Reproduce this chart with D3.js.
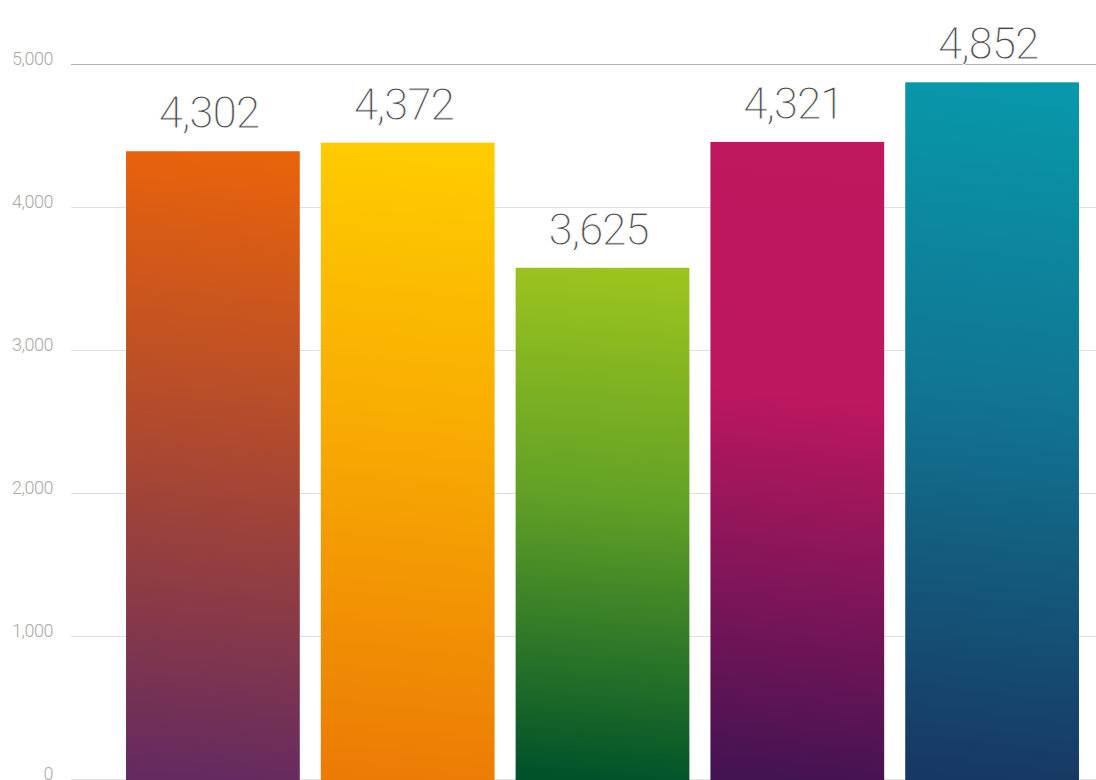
<!DOCTYPE html>
<html lang="en">
<head>
    <meta charset="UTF-8">
    <title>Bar Chart</title>
    <style>
        body{ margin:0; background:#fff; }
        .grid line{ stroke:#e0e0e0; shape-rendering:crispEdges; }
        .grid line.top{ stroke:#b0b0b0; }
        .axis text{ font:300 18px "Roboto Light", Roboto, sans-serif; fill:#aaa; text-anchor:end;
            letter-spacing:-0.5px; }
        /* no light weight installed: a thin white stroke over the fill thins the glyphs */
        .bar text{ font:300 44px "Roboto Light", Roboto, sans-serif; fill:#4a4a4a; text-anchor:middle;
            letter-spacing:-1.2px; stroke:#fff; stroke-width:0.8px; }
    </style>
</head>
<body>
    <svg class="chart" width="1096" height="780"></svg>
    <script src="https://cdn.jsdelivr.net/npm/d3@7"></script>
    <script>
        var categories = ["A", "B", "C", "D", "E"];
        var values = [4390, 4450, 3575, 4455, 4872];
        var labels = [4302, 4372, 3625, 4321, 4852];
        var yTicks = [0, 1000, 2000, 3000, 4000, 5000];
        var topColors = ["#e9630b", "#ffcc00", "#9cc41e", "#c0175e", "#0898ab"];
        var midColors = ["#b04a2e", "#f8ab02", "#62a126", "#bc175f", "#117592"];
        var bottomColors = ["#642a60", "#ec7b05", "#00522a", "#441352", "#173862"];

        var svg = d3.select("svg"),
            width = +svg.attr("width"),
            height = +svg.attr("height");

        var x = d3.scaleBand().domain(categories).range([115.5, 1089.5])
            .paddingInner(0.108).paddingOuter(0.054);
        var y = d3.scaleLinear().domain([0, 5000]).range([779, 64]);

        var fmt = d3.format(",");

        // gradients, one per bar (almost vertical, a slight tilt)
        var defs = svg.append("defs");
        categories.forEach(function(c, i){
            var grad = defs.append("linearGradient")
                .attr("id", "grad" + i)
                .attr("x1", 0.515).attr("y1", 0)
                .attr("x2", 0.485).attr("y2", 1);
            grad.append("stop").attr("offset", "0%").attr("stop-color", topColors[i]);
            grad.append("stop").attr("offset", i == 3 ? "40%" : "45%").attr("stop-color", midColors[i]);
            grad.append("stop").attr("offset", "100%").attr("stop-color", bottomColors[i]);
        });

        // gridlines + tick labels
        var grid = svg.append("g").attr("class", "grid");
        grid.selectAll("line")
            .data(yTicks)
            .enter().append("line")
            .attr("class", function(d){ return d == 5000 ? "top" : null; })
            .attr("x1", 71)
            .attr("x2", width)
            .attr("y1", function(d){ return Math.round(y(d)) + 0.5; })
            .attr("y2", function(d){ return Math.round(y(d)) + 0.5; });

        svg.append("g").attr("class", "axis")
            .selectAll("text")
            .data(yTicks)
            .enter().append("text")
            .attr("x", 53)
            .attr("y", function(d){ return y(d) + 1; })
            .text(function(d){ return fmt(d); });

        var bar = svg.selectAll(".bar")
            .data(values)
            .enter().append("g")
            .attr("class", "bar")
            .attr("transform", function(d, i){ return "translate(" + x(categories[i]) + ",0)"; });

        bar.append("rect")
            .attr("y", function(d){ return y(d); })
            .attr("height", function(d){ return y(0) - y(d) + 1; })
            .attr("width", x.bandwidth())
            .attr("fill", function(d, i){ return "url(#grad" + i + ")"; });

        bar.append("text")
            .attr("x", x.bandwidth() / 2)
            .attr("dx", -4)
            .attr("y", function(d){ return y(d) - 23; })
            .text(function(d, i){ return fmt(labels[i]); });
    </script>
</body>
</html>
